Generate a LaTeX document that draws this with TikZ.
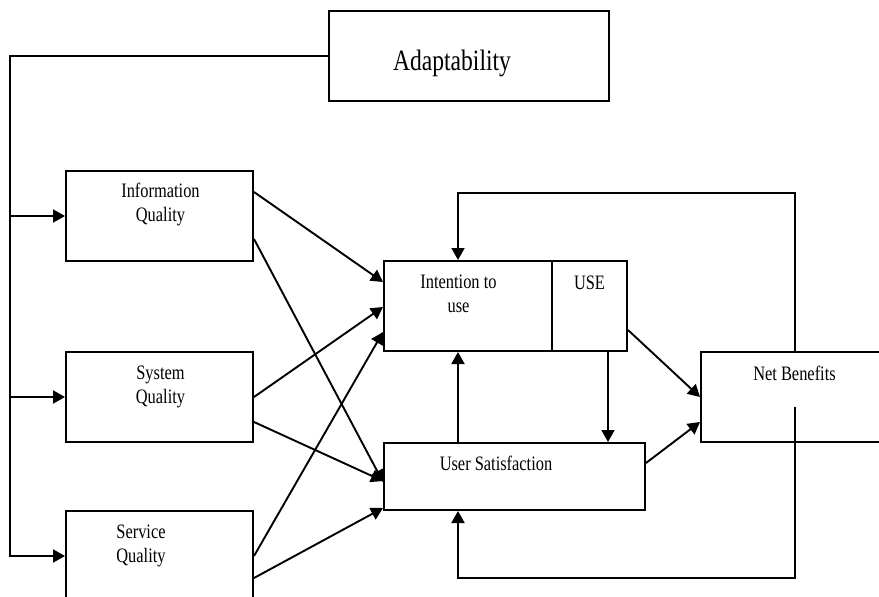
\documentclass[tikz,border=0pt]{standalone}
\usepackage{fontspec}
\setmainfont{Liberation Serif}[FakeStretch=0.8]
\usetikzlibrary{arrows.meta,calc}

\tikzset{
  box/.style={draw, line width=2pt, rectangle, inner sep=0pt, fill=white},
  txt/.style={inner sep=0pt, align=center, font=\fontsize{20.5}{24}\selectfont},
  bigtxt/.style={inner sep=0pt, font=\fontsize{29.5}{34}\selectfont},
  arr/.style={line width=1.9pt, -{Triangle[length=12pt,width=13pt]}},
}

\begin{document}
\begin{tikzpicture}[x=1pt,y=-1pt]
\useasboundingbox (0,0) rectangle (879,597);
\clip (0,0) rectangle (879,597);

% boxes
\node[box, minimum width=280pt, minimum height=90pt] (adapt) at (469,56) {};
\node[box, minimum width=187pt, minimum height=90pt] (info) at (159.5,216) {};
\node[box, minimum width=187pt, minimum height=90pt] (sys) at (159.5,397) {};
\node[box, minimum width=187pt, minimum height=90pt] (serv) at (159.5,556) {};
\node[box, minimum width=243pt, minimum height=90pt] (intent) at (505.5,306) {};
\node[box, minimum width=261pt, minimum height=67pt] (us) at (514.5,476.5) {};
\node[box, minimum width=184pt, minimum height=90pt] (net) at (793,397) {};

% divider between intention and use
\coordinate (divx) at (552,0);
\draw[line width=1.8pt] (intent.north -| divx) -- (intent.south -| divx);

% labels (two-line labels are anchored on their last baseline)
\node[bigtxt, anchor=base] (tadapt) at (452,70) {Adaptability};
\node[txt, anchor=base] (tinfo) at (160.5,221) {Information\\Quality};
\node[txt, anchor=base] (tsys) at (160.5,403) {System\\Quality};
\node[txt, anchor=base] (tserv) at (141,562) {Service\\Quality};
\node[txt, anchor=base] (tint) at (458.5,312) {Intention to\\use};
\node[txt, anchor=base] (tuse) at (589.5,289) {USE};
\node[txt, anchor=base] (tus) at (496,470) {User Satisfaction};
\node[txt, anchor=base] (tnet) at (794.5,380) {Net Benefits};

% adaptability feeds the three quality boxes
\coordinate (lt) at (10,56);
\coordinate (lb) at (10,556);
\draw[arr] (adapt.west) -- (lt) -- (lb) -- (serv.west);
\draw[arr] (lt |- info.west) -- (info.west);
\draw[arr] (lt |- sys.west) -- (sys.west);

% quality -> intention / satisfaction
\draw[arr] ($(info.north east)+(0,22)$) -- ($(intent.north west)+(0,22)$);
\draw[arr] ($(info.south east)+(0,-23)$) -- ($(us.north west)+(0,40)$);
\draw[arr] (sys.east) -- ($(intent.north west)+(0,47)$);
\draw[arr] ($(sys.south east)+(0,-21)$) -- ($(us.north west)+(0,39)$);
\draw[arr] (serv.east) -- ($(intent.north west)+(0,72)$);
\draw[arr] ($(serv.east)+(0,22)$) -- ($(us.south west)+(0,-3)$);

% to net benefits
\draw[arr] ($(intent.east)+(0,24)$) -- (net.west);
\draw[arr] ($(us.east)+(0,-13.5)$) -- ($(net.west)+(0,25)$);

% between intention and satisfaction
\coordinate (midx) at (458,0);
\coordinate (downx) at (608,0);
\draw[arr] (us.north -| midx) -- (intent.south -| midx);
\draw[arr] (intent.south -| downx) -- (us.north -| downx);

% feedback loops from net benefits
\coordinate (fbr) at (795,193);
\coordinate (fbl) at (458,193);
\draw[arr] (net.north -| fbr) -- (fbr) -- (fbl) -- (fbl |- intent.north);
\coordinate (bs) at (795,407);
\coordinate (bbr) at (795,578);
\coordinate (bbl) at (458,578);
\draw[arr] (bs) -- (bbr) -- (bbl) -- (bbl |- us.south);
\end{tikzpicture}
\end{document}
